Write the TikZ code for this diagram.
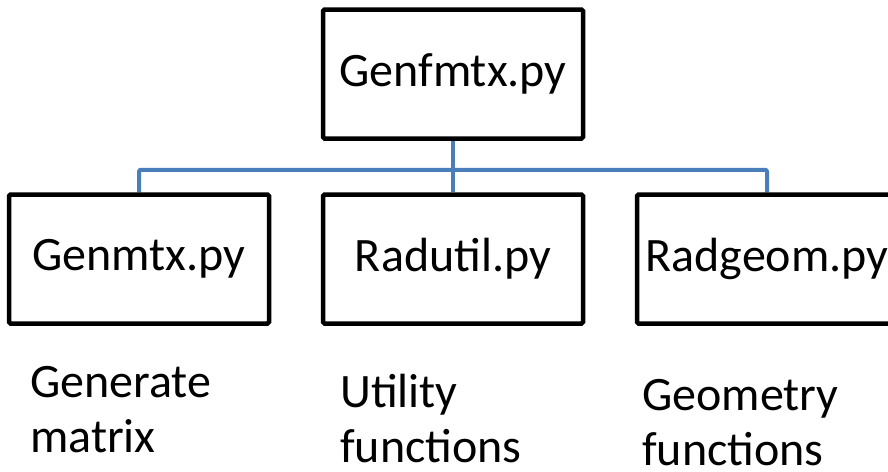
\documentclass[tikz,border=0pt]{standalone}
\usepackage{fontspec}
\setmainfont{Carlito}
\usepackage{xcolor}
\usetikzlibrary{backgrounds}
\definecolor{linkblue}{HTML}{4A7EBB}

\begin{document}
\begin{tikzpicture}[x=1pt,y=-1pt,
  modbox/.style={draw=black,line width=4.5pt,rounded corners=1.5pt,fill=white,
    minimum width=260pt,minimum height=129pt,inner sep=0pt,
    font=\fontsize{48}{55}\selectfont},
  link/.style={draw=linkblue,line width=4pt,rounded corners=2pt},
  note/.style={align=left,inner sep=0pt,anchor=base west,
    font=\fontsize{48}{55}\selectfont}]
\useasboundingbox (0,0) rectangle (888,471);

% top module
\node[modbox] (genfmtx) at (453,74) {Genfmtx.py};

% sub modules
\node[modbox] (genmtx) at (139,259) {Genmtx.py};
\node[modbox] (radutil) at (453,259) {Radutil.py};
\node[modbox] (radgeom) at (767,259) {Radgeom.py};

% connectors
\begin{scope}[on background layer]
\draw[link] (genfmtx.south) -- ++(0,29) coordinate (bus);
\draw[link] (genmtx.north) |- (bus) -| (radgeom.north);
\draw[link] (bus) -- (radutil.north);
\end{scope}

% descriptions
\node[note] (genlab) at (30,452) {Generate\\matrix};
\node[note] (utillab) at (340,462) {Utility\\functions};
\node[note] (geomlab) at (642,465) {Geometry\\functions};
\end{tikzpicture}
\end{document}
